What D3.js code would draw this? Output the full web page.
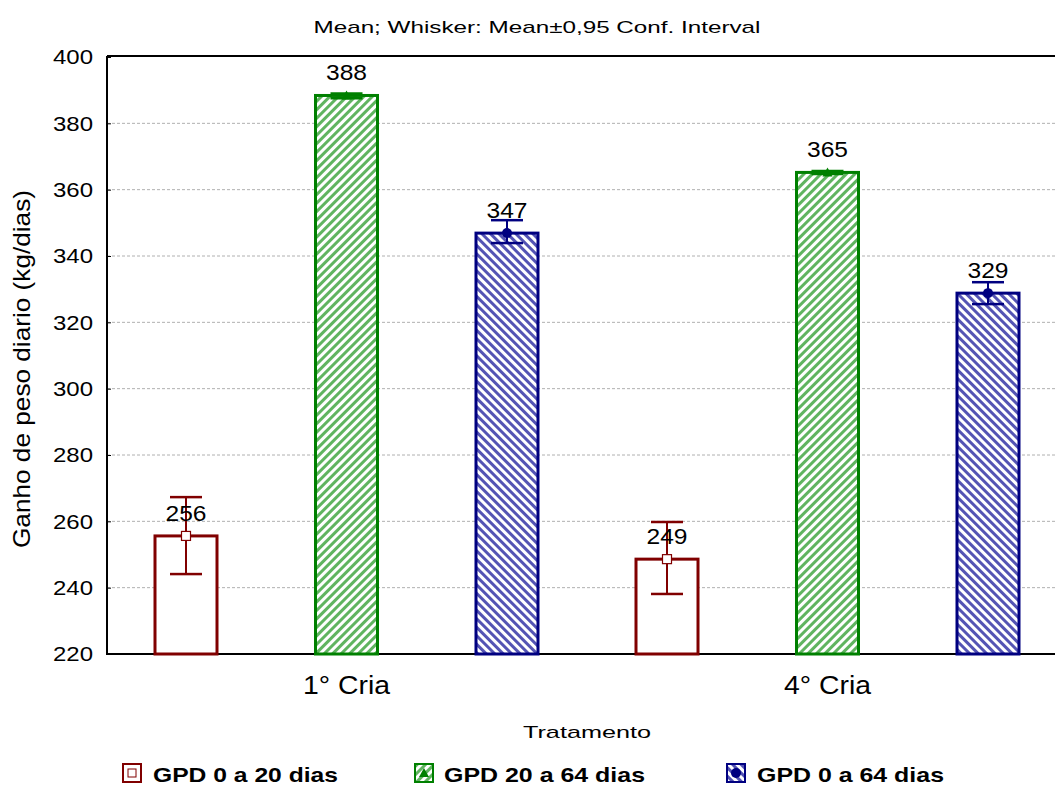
<!DOCTYPE html>
<html><head><meta charset="utf-8">
<script src="https://cdn.jsdelivr.net/npm/d3@7"></script>
<style>body{margin:0;background:#fff;}svg{display:block;font-family:Arial,"Liberation Sans",sans-serif;}</style>
</head><body>
<svg id="c" width="1055" height="787"></svg>
<script>
const categories = ["1° Cria", "4° Cria"];
const seriesNames = ["GPD 0 a 20 dias", "GPD 20 a 64 dias", "GPD 0 a 64 dias"];
const means = [[255.6, 248.6], [388.4, 365.2], [346.9, 328.8]];
const ciLow = [[244.1, 238.1], [387.6, 364.7], [343.9, 325.5]];
const ciHigh = [[267.3, 259.8], [389.0, 365.6], [350.8, 332.1]];
const labels = [["256", "249"], ["388", "365"], ["347", "329"]];
const yTicks = [220, 240, 260, 280, 300, 320, 340, 360, 380, 400];
const colors = ["#800000", "#008000", "#000080"];

const svg = d3.select("#c");
const defs = svg.append("defs");
function hatch(id, color, dir) {
  const p = defs.append("pattern").attr("id", id).attr("patternUnits", "userSpaceOnUse")
    .attr("width", 6).attr("height", 6).attr("patternTransform", `rotate(${dir})`);
  p.append("rect").attr("width", 6).attr("height", 6).attr("fill", "#fff");
  p.append("rect").attr("width", 3).attr("height", 6).attr("fill", color).attr("opacity", 0.75);
}
hatch("hg", "#2a9a2a", 45);
hatch("hb", "#1a1a9a", -45);
const fills = ["#fff", "url(#hg)", "url(#hb)"];

const L = 107, R = 1055, T = 57, B = 654;
const y = d3.scaleLinear().domain([220, 400]).range([B, T]);
const x0 = d3.scaleBand().domain(categories).range([107, 1068]);
const bw = 62;
const barX = d => x0(d.c) + 48 + d.si * 160.5 + (d.ci ? 0.5 : 0);
const mid = d => barX(d) + bw / 2;

// grid
svg.append("g").selectAll("line").data(yTicks.filter(t => t > 220 && t < 400)).join("line")
  .attr("x1", L).attr("x2", R).attr("y1", d => y(d)).attr("y2", d => y(d))
  .attr("stroke", "#b0b0b0").attr("stroke-dasharray", "3,2").attr("stroke-width", 1);

// axes
const ya = svg.append("g").attr("transform", `translate(${L},0)`)
  .call(d3.axisLeft(y).tickValues(yTicks).tickSize(-4).tickPadding(14));
ya.select(".domain").remove();
ya.selectAll("text").attr("font-size", 21).attr("fill", "#000")
  .attr("font-family", "Arial, 'Liberation Sans', sans-serif")
  .attr("textLength", 40).attr("lengthAdjust", "spacingAndGlyphs");
ya.selectAll("line").attr("stroke", "#000");
svg.append("line").attr("x1", L).attr("x2", L).attr("y1", T - 1).attr("y2", B + 1).attr("stroke", "#000").attr("stroke-width", 2);
svg.append("line").attr("x1", L).attr("x2", R).attr("y1", T - 1).attr("y2", T - 1).attr("stroke", "#000").attr("stroke-width", 2);
svg.append("line").attr("x1", L).attr("x2", R).attr("y1", B).attr("y2", B).attr("stroke", "#000").attr("stroke-width", 2);

const data = [];
categories.forEach((c, ci) => {
  seriesNames.forEach((s, si) => {
    data.push({ c, ci, si, m: means[si][ci], lo: ciLow[si][ci], hi: ciHigh[si][ci], lab: labels[si][ci] });
  });
});

const g = svg.append("g");
g.selectAll("rect.bar").data(data).join("rect").attr("class", "bar")
  .attr("x", barX).attr("width", bw)
  .attr("y", d => y(d.m)).attr("height", d => B - y(d.m))
  .attr("fill", d => fills[d.si]).attr("stroke", d => colors[d.si]).attr("stroke-width", 3);

// whiskers
g.selectAll("line.wv").data(data).join("line").attr("class", "wv")
  .attr("x1", mid).attr("x2", mid).attr("y1", d => y(d.hi)).attr("y2", d => y(d.lo))
  .attr("stroke", d => colors[d.si]).attr("stroke-width", 2);
["hi", "lo"].forEach(k => {
  g.selectAll("line.wc" + k).data(data).join("line").attr("class", "wc" + k)
    .attr("x1", d => mid(d) - 16).attr("x2", d => mid(d) + 16)
    .attr("y1", d => y(d[k])).attr("y2", d => y(d[k]))
    .attr("stroke", d => colors[d.si]).attr("stroke-width", 2.5);
});
// markers
data.forEach(d => {
  const cxp = mid(d), cyp = y(d.m);
  if (d.si === 0) {
    g.append("rect").attr("x", cxp - 4.5).attr("y", cyp - 4.5).attr("width", 9).attr("height", 9)
      .attr("fill", "#fff").attr("stroke", colors[0]).attr("stroke-width", 1.2);
  } else if (d.si === 1) {
    g.append("path").attr("d", `M${cxp - 5},${cyp + 4}L${cxp + 5},${cyp + 4}L${cxp},${cyp - 5}Z`).attr("fill", colors[1]);
  } else {
    g.append("circle").attr("cx", cxp).attr("cy", cyp).attr("r", 5).attr("fill", colors[2]);
  }
});
// value labels
g.selectAll("text.v").data(data).join("text").attr("class", "v")
  .attr("x", mid).attr("y", d => y(d.m) - 15).attr("text-anchor", "middle")
  .attr("font-size", 22).attr("fill", "#000")
  .attr("textLength", 41).attr("lengthAdjust", "spacingAndGlyphs").text(d => d.lab);

// category labels
svg.selectAll("text.cat").data(categories).join("text").attr("class", "cat")
  .attr("x", (d, i) => x0(d) + 48 + 160.5 + (i ? 0.5 : 0) + bw / 2).attr("y", 694)
  .attr("text-anchor", "middle").attr("font-size", 26)
  .attr("textLength", 87).attr("lengthAdjust", "spacingAndGlyphs").text(d => d);

// titles
svg.append("text").attr("x", 537).attr("y", 33).attr("text-anchor", "middle").attr("font-size", 17)
  .attr("textLength", 447).attr("lengthAdjust", "spacingAndGlyphs")
  .text("Mean; Whisker: Mean±0,95 Conf. Interval");
svg.append("text").attr("x", 587).attr("y", 738).attr("text-anchor", "middle").attr("font-size", 17)
  .attr("textLength", 128).attr("lengthAdjust", "spacingAndGlyphs").text("Tratamento");
svg.append("text").attr("transform", "translate(30,369) rotate(-90)").attr("text-anchor", "middle")
  .attr("font-size", 24).attr("textLength", 358).attr("lengthAdjust", "spacingAndGlyphs")
  .text("Ganho de peso diario (kg/dias)");

// legend
const legX = [123, 415, 727];
const legW = [185, 201, 187];
const lg = svg.append("g");
seriesNames.forEach((s, i) => {
  const gx = legX[i], gy = 764;
  lg.append("rect").attr("x", gx).attr("y", gy).attr("width", 18).attr("height", 18)
    .attr("fill", fills[i]).attr("stroke", colors[i]).attr("stroke-width", 2);
  const cxp = gx + 9, cyp = gy + 9;
  if (i === 0) lg.append("rect").attr("x", cxp - 4).attr("y", cyp - 4).attr("width", 8).attr("height", 8).attr("fill", "#fff").attr("stroke", colors[0]);
  else if (i === 1) lg.append("path").attr("d", `M${cxp - 5},${cyp + 4}L${cxp + 5},${cyp + 4}L${cxp},${cyp - 5}Z`).attr("fill", colors[1]);
  else lg.append("circle").attr("cx", cxp).attr("cy", cyp).attr("r", 5).attr("fill", colors[2]);
  lg.append("text").attr("x", legX[i] + (i === 0 ? 30 : i === 1 ? 29 : 30)).attr("y", gy + 18)
    .attr("font-size", 21).attr("font-weight", "bold")
    .attr("textLength", legW[i]).attr("lengthAdjust", "spacingAndGlyphs").text(s);
});
</script>
</body></html>
